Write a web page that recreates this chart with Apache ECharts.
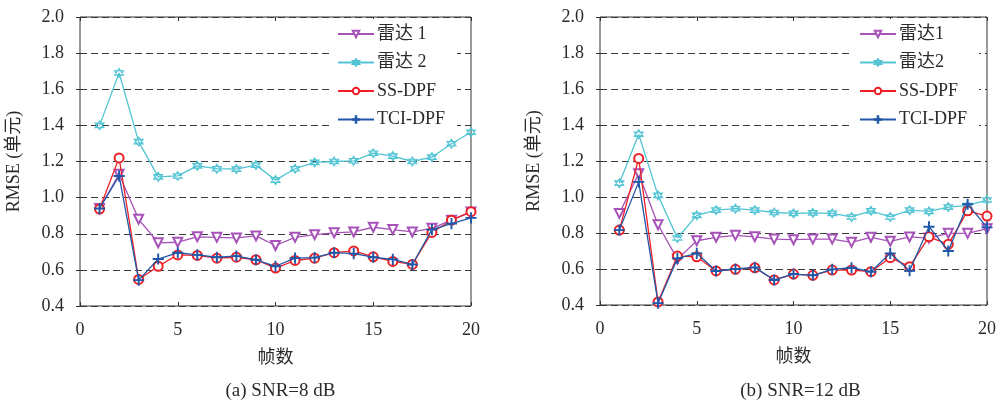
<!DOCTYPE html>
<html><head><meta charset="utf-8">
<script src="https://cdn.jsdelivr.net/npm/echarts@6/dist/echarts.min.js"></script>
<style>html,body{margin:0;padding:0;background:#fff}#c{width:999px;height:403px}</style>
</head><body><div id="c"></div>
<script>
const frames = [1,2,3,4,5,6,7,8,9,10,11,12,13,14,15,16,17,18,19,20];
const yTicks = [0.4,0.6,0.8,1.0,1.2,1.4,1.6,1.8,2.0];
const xTicks = [0,5,10,15,20];

// (a) SNR=8 dB
const aRadar1 = [0.94,1.13,0.88,0.75,0.753,0.783,0.78,0.777,0.788,0.735,0.78,0.795,0.805,0.81,0.836,0.823,0.81,0.83,0.875,0.92];
const aRadar2 = [1.40,1.69,1.31,1.115,1.12,1.176,1.16,1.158,1.18,1.097,1.16,1.195,1.20,1.204,1.246,1.23,1.20,1.224,1.298,1.362];
const aSS = [0.937,1.22,0.547,0.62,0.683,0.68,0.665,0.67,0.656,0.61,0.652,0.665,0.695,0.705,0.672,0.647,0.63,0.807,0.875,0.922];
const aTCI = [0.94,1.12,0.543,0.66,0.695,0.683,0.67,0.676,0.656,0.62,0.665,0.668,0.695,0.69,0.67,0.658,0.63,0.823,0.856,0.888];

// (b) SNR=12 dB
const bRadar1 = [0.909,1.129,0.846,0.655,0.757,0.776,0.787,0.779,0.766,0.763,0.766,0.766,0.748,0.776,0.754,0.778,0.772,0.798,0.798,0.824];
const bRadar2 = [1.077,1.349,1.009,0.772,0.898,0.927,0.935,0.927,0.914,0.909,0.912,0.909,0.889,0.923,0.889,0.927,0.92,0.944,0.953,0.983];
const bSS = [0.816,1.214,0.417,0.672,0.668,0.589,0.598,0.607,0.539,0.572,0.565,0.594,0.594,0.585,0.663,0.613,0.779,0.737,0.923,0.894];
const bTCI = [0.816,1.084,0.41,0.659,0.687,0.589,0.6,0.609,0.539,0.572,0.565,0.598,0.607,0.585,0.687,0.59,0.835,0.70,0.96,0.831];

const namesA = ['雷达 1','雷达 2','SS-DPF','TCI-DPF'];
const namesB = ['雷达1','雷达2','SS-DPF','TCI-DPF'];
const captions = ['(a) SNR=8 dB','(b) SNR=12 dB'];
const xName = '帧数';
const yName = 'RMSE (单元)';

const FONT = '"Liberation Serif","Noto Sans CJK SC",serif';
const TXT = '#2a2a2a';
const C_PURPLE = '#a652b8', C_CYAN = '#52c4d4', C_RED = '#ec2026', C_BLUE = '#2157a8';
const HEX = 'path://M0,-10 L8.66,5 L-8.66,5 Z M0,10 L8.66,-5 L-8.66,-5 Z';
const PLUS = 'path://M-0.8,-10 L0.8,-10 L0.8,-0.8 L10,-0.8 L10,0.8 L0.8,0.8 L0.8,10 L-0.8,10 L-0.8,0.8 L-10,0.8 L-10,-0.8 L-0.8,-0.8 Z';

const grids = [
  {left:80, width:391, top:17, height:289},
  {left:600, width:391, top:17, height:288}
];
const pair = arr => frames.map((f,i)=>[f,arr[i]]);

const xAxes = [], yAxes = [], series = [], legends = [], titles = [];
grids.forEach((g,gi)=>{
  g.show = true; g.borderColor = '#333'; g.borderWidth = 1; g.backgroundColor='transparent';
  xAxes.push({gridIndex:gi,type:'value',min:xTicks[0],max:xTicks[xTicks.length-1],interval:5,position:'bottom',
    axisLine:{show:false},axisTick:{show:true,inside:true,length:4,lineStyle:{color:'#333'}},
    axisLabel:{color:TXT,fontFamily:FONT,fontSize:18,margin:15},splitLine:{show:false},
    name:xName,nameLocation:'middle',nameGap:43,nameTextStyle:{color:TXT,fontFamily:FONT,fontSize:18}});
  xAxes.push({gridIndex:gi,type:'value',min:0,max:20,interval:5,position:'top',
    axisLine:{show:false},axisTick:{show:true,inside:true,length:4,lineStyle:{color:'#333'}},
    axisLabel:{show:false},splitLine:{show:false}});
  yAxes.push({gridIndex:gi,type:'value',min:yTicks[0],max:yTicks[yTicks.length-1],interval:0.2,position:'left',
    axisLine:{show:false},axisTick:{show:true,inside:true,length:4,lineStyle:{color:'#333'}},
    axisLabel:{color:TXT,fontFamily:FONT,fontSize:18,margin:16,formatter:v=>v.toFixed(1)},
    splitLine:{show:true,lineStyle:{color:'#3a3a3a',type:[7,4],width:1}},
    name:yName,nameLocation:'middle',nameGap:57,nameRotate:90,nameTextStyle:{color:TXT,fontFamily:FONT,fontSize:18}});
  yAxes.push({gridIndex:gi,type:'value',min:0.4,max:2.0,interval:0.2,position:'right',
    axisLine:{show:false},axisTick:{show:true,inside:true,length:4,lineStyle:{color:'#333'}},
    axisLabel:{show:false},splitLine:{show:false}});
  const names = gi===0?namesA:namesB;
  const data = gi===0?[aRadar1,aRadar2,aSS,aTCI]:[bRadar1,bRadar2,bSS,bTCI];
  const styles = [
    {color:C_PURPLE,symbol:'emptyTriangle',size:9,rot:180,fill:'#fff'},
    {color:C_CYAN,symbol:HEX,size:9,rot:0,fill:'rgba(0,0,0,0)'},
    {color:C_RED,symbol:'emptyCircle',size:9,rot:0,fill:'#fff'},
    {color:C_BLUE,symbol:PLUS,size:10,rot:0,fill:C_BLUE}
  ];
  names.forEach((n,si)=>{
    const s = styles[si];
    series.push({type:'line',name:n,xAxisIndex:gi*2,yAxisIndex:gi*2,data:pair(data[si]),
      symbol:s.symbol,symbolSize:s.size,symbolRotate:s.rot,showAllSymbol:true,
      lineStyle:{color:s.color,width:1.3},
      itemStyle:{color:s.fill==='#fff'?s.color:s.fill,borderColor:s.color,borderWidth:1.1},
      emphasis:{disabled:true},animation:false,z:2+si});
  });
  legends.push({data:names,orient:'vertical',
    left:gi===0?331:853,top:19,itemWidth:36,itemHeight:8,itemGap:10.5,
    backgroundColor:'#fff',padding:[6,12,8,6],
    textStyle:{color:TXT,fontFamily:FONT,fontSize:18,padding:[0,0,0,-2]},selectedMode:false});
  titles.push({text:captions[gi],left:g.left+g.width/2,top:377,textAlign:'center',
    textStyle:{color:TXT,fontFamily:FONT,fontSize:19,fontWeight:'normal'}});
});

const chart = echarts.init(document.getElementById('c'),null,{renderer:'canvas'});
chart.setOption({animation:false,backgroundColor:'#fff',grid:grids,xAxis:xAxes,yAxis:yAxes,series,legend:legends,title:titles});
</script></body></html>
